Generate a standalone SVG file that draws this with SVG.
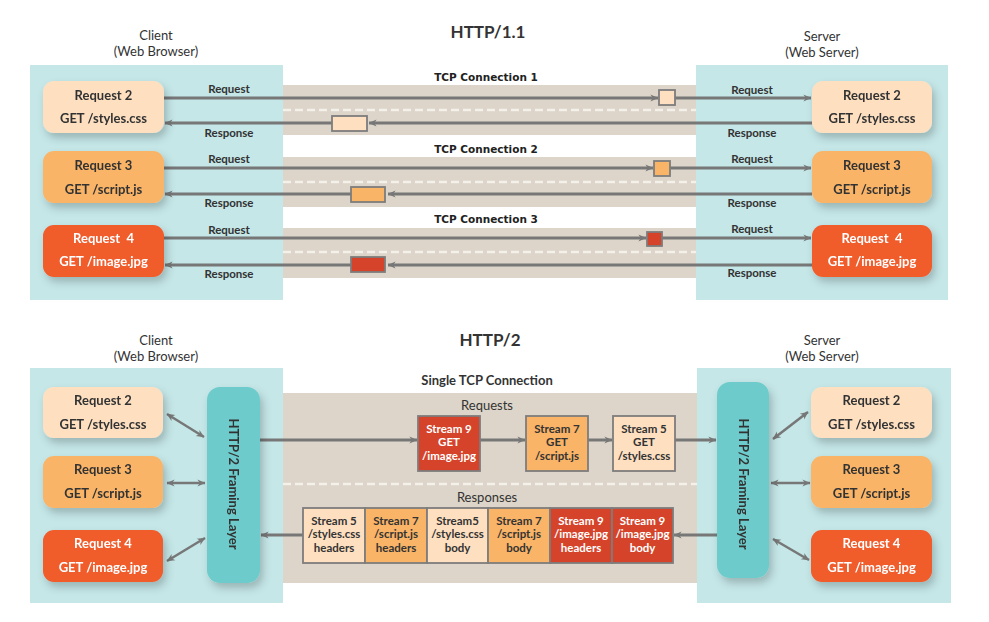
<svg xmlns="http://www.w3.org/2000/svg" width="989" height="622" viewBox="0 0 989 622">
<defs>
<style>
.t{font-family:Lato,"Open Sans","Liberation Sans",sans-serif;font-weight:bold;fill:#333;text-anchor:middle}
.w{fill:#fff}
.nd{font-size:13px}
.lb{font-size:11.5px}
.hd{font-family:Lato,"Liberation Sans",sans-serif;font-size:13px;fill:#333;text-anchor:middle}
.ttl{font-size:17px}
.tcp{font-family:"DejaVu Sans",Verdana,sans-serif;font-weight:bold;font-size:10.5px;fill:#222;text-anchor:middle}
.sm{font-size:11.5px}
.panel{fill:#c5e7e8}
.band{fill:#ddd5c9}
.dash{stroke:#f4f0ea;stroke-width:2.5;stroke-dasharray:8 4}
.peach{fill:#fee0c1}
.orange{fill:#f9b467}
.red{fill:#f05b2c}
.dred{fill:#d5442a}
.pkt{stroke:#7d7d7d;stroke-width:1.8}
.ln{stroke:#777;stroke-width:3;fill:none}
.ln2{stroke:#777;stroke-width:2.5;fill:none}
.fr{fill:#6ecbcb}
</style>
<filter id="sh" x="-20%" y="-20%" width="150%" height="160%">
<feDropShadow dx="3" dy="5" stdDeviation="4" flood-color="#000" flood-opacity="0.22"/>
</filter>
<marker id="ah" viewBox="0 0 10 10" refX="9.5" refY="5" markerWidth="10" markerHeight="8" markerUnits="userSpaceOnUse" orient="auto-start-reverse">
<path d="M0,0.5 L10,5 L0,9.5 L3,5 z" fill="#777"/>
</marker>
</defs>
<rect width="989" height="622" fill="#fff"/>

<!-- ===== HTTP/1.1 ===== -->
<text class="t ttl" x="488" y="38">HTTP/1.1</text>
<text class="hd" x="156" y="40">Client</text>
<text class="hd" x="156" y="56">(Web Browser)</text>
<text class="hd" x="822" y="41">Server</text>
<text class="hd" x="822" y="57">(Web Server)</text>

<rect class="panel" x="30" y="65" width="253" height="235"/>
<rect class="panel" x="696" y="65" width="252" height="235"/>

<g id="tcp1">
<rect class="band" x="283" y="85" width="413" height="50"/>
<line class="dash" x1="283" y1="110" x2="696" y2="110"/>
<text class="tcp" x="486" y="81">TCP Connection 1</text>
</g>
<g id="tcp2">
<rect class="band" x="283" y="157" width="413" height="50"/>
<line class="dash" x1="283" y1="182" x2="696" y2="182"/>
<text class="tcp" x="486" y="153">TCP Connection 2</text>
</g>
<g id="tcp3">
<rect class="band" x="283" y="228" width="413" height="50"/>
<line class="dash" x1="283" y1="252" x2="696" y2="252"/>
<text class="tcp" x="486" y="223">TCP Connection 3</text>
</g>

<g id="connectors-http1">
<line class="ln" x1="164" y1="98" x2="658" y2="98" marker-end="url(#ah)"/>
<line class="ln" x1="675" y1="98" x2="811" y2="98" marker-end="url(#ah)"/>
<line class="ln" x1="812" y1="123" x2="369" y2="123" marker-end="url(#ah)"/>
<line class="ln" x1="332" y1="123" x2="165" y2="123" marker-end="url(#ah)"/>

<line class="ln" x1="164" y1="168" x2="653" y2="168" marker-end="url(#ah)"/>
<line class="ln" x1="670" y1="168" x2="811" y2="168" marker-end="url(#ah)"/>
<line class="ln" x1="812" y1="194" x2="388" y2="194" marker-end="url(#ah)"/>
<line class="ln" x1="351" y1="194" x2="165" y2="194" marker-end="url(#ah)"/>

<line class="ln" x1="164" y1="238" x2="646" y2="238" marker-end="url(#ah)"/>
<line class="ln" x1="662" y1="238" x2="811" y2="238" marker-end="url(#ah)"/>
<line class="ln" x1="812" y1="265" x2="388" y2="265" marker-end="url(#ah)"/>
<line class="ln" x1="351" y1="265" x2="165" y2="265" marker-end="url(#ah)"/>

<text class="t lb" x="229" y="93">Request</text>
<text class="t lb" x="229" y="137">Response</text>
<text class="t lb" x="752" y="94">Request</text>
<text class="t lb" x="752" y="137">Response</text>
<text class="t lb" x="229" y="163">Request</text>
<text class="t lb" x="229" y="207">Response</text>
<text class="t lb" x="752" y="163">Request</text>
<text class="t lb" x="752" y="207">Response</text>
<text class="t lb" x="229" y="234">Request</text>
<text class="t lb" x="229" y="278">Response</text>
<text class="t lb" x="752" y="233">Request</text>
<text class="t lb" x="752" y="277">Response</text>
</g>

<g id="packets-http1">
<rect class="peach pkt" x="659" y="90" width="16" height="15"/>
<rect class="peach pkt" x="332" y="116" width="35" height="15"/>
<rect class="orange pkt" x="654" y="161" width="16" height="15"/>
<rect class="orange pkt" x="351" y="187" width="34" height="15"/>
<rect class="dred pkt" x="647" y="232" width="15" height="14"/>
<rect class="dred pkt" x="351" y="257" width="34" height="15"/>
</g>

<g id="c1-req2" filter="url(#sh)">
<rect class="peach" x="43" y="81" width="121" height="52" rx="11"/>
<text class="t nd" x="103.5" y="100">Request 2</text>
<text class="t nd" x="103.5" y="123">GET /styles.css</text>
</g>
<g id="c1-req3" filter="url(#sh)">
<rect class="orange" x="43" y="151" width="121" height="52" rx="11"/>
<text class="t nd" x="103.5" y="170">Request 3</text>
<text class="t nd" x="103.5" y="194">GET /script.js</text>
</g>
<g id="c1-req4" filter="url(#sh)">
<rect class="red" x="43" y="225" width="121" height="52" rx="11"/>
<text class="t nd w" x="103.5" y="243" xml:space="preserve">Request  4</text>
<text class="t nd w" x="103.5" y="266">GET /image.jpg</text>
</g>
<g id="s1-req2" filter="url(#sh)">
<rect class="peach" x="812" y="81" width="120" height="52" rx="11"/>
<text class="t nd" x="872" y="100">Request 2</text>
<text class="t nd" x="872" y="123">GET /styles.css</text>
</g>
<g id="s1-req3" filter="url(#sh)">
<rect class="orange" x="812" y="151" width="120" height="52" rx="11"/>
<text class="t nd" x="872" y="170">Request 3</text>
<text class="t nd" x="872" y="194">GET /script.js</text>
</g>
<g id="s1-req4" filter="url(#sh)">
<rect class="red" x="812" y="225" width="120" height="52" rx="11"/>
<text class="t nd w" x="872" y="243" xml:space="preserve">Request  4</text>
<text class="t nd w" x="872" y="266">GET /image.jpg</text>
</g>

<!-- ===== HTTP/2 ===== -->
<text class="t ttl" x="490" y="346">HTTP/2</text>
<text class="hd" x="156" y="345">Client</text>
<text class="hd" x="156" y="361">(Web Browser)</text>
<text class="hd" x="822" y="345">Server</text>
<text class="hd" x="822" y="361">(Web Server)</text>

<rect class="panel" x="30" y="368" width="253" height="235"/>
<rect class="panel" x="697" y="368" width="254" height="235"/>

<g id="tcp-single">
<rect class="band" x="283" y="393" width="414" height="190"/>
<line class="dash" x1="283" y1="484" x2="697" y2="484"/>
<text class="t nd" x="487" y="385">Single TCP Connection</text>
<text class="t nd" x="487" y="410" style="font-weight:normal">Requests</text>
<text class="t nd" x="487" y="502" style="font-weight:normal">Responses</text>
</g>

<g id="connectors-http2">
<line class="ln" x1="260" y1="440" x2="417" y2="440" marker-end="url(#ah)"/>
<line class="ln" x1="480" y1="440" x2="525" y2="440" marker-end="url(#ah)"/>
<line class="ln" x1="588" y1="440" x2="612" y2="440" marker-end="url(#ah)"/>
<line class="ln" x1="675" y1="440" x2="716" y2="440" marker-end="url(#ah)"/>
<line class="ln" x1="717" y1="535" x2="674" y2="535" marker-end="url(#ah)"/>
<line class="ln" x1="303" y1="535" x2="261" y2="535" marker-end="url(#ah)"/>

<line class="ln2" x1="167" y1="414" x2="204" y2="437" marker-start="url(#ah)" marker-end="url(#ah)"/>
<line class="ln2" x1="167" y1="483" x2="205" y2="483" marker-start="url(#ah)" marker-end="url(#ah)"/>
<line class="ln2" x1="167" y1="561" x2="205" y2="538" marker-start="url(#ah)" marker-end="url(#ah)"/>
<line class="ln2" x1="773" y1="439" x2="808" y2="412" marker-start="url(#ah)" marker-end="url(#ah)"/>
<line class="ln2" x1="771" y1="483" x2="810" y2="483" marker-start="url(#ah)" marker-end="url(#ah)"/>
<line class="ln2" x1="773" y1="539" x2="809" y2="560" marker-start="url(#ah)" marker-end="url(#ah)"/>
</g>

<g id="framing-client" filter="url(#sh)">
<rect class="fr" x="207" y="387" width="53" height="196" rx="13"/>
<text class="t nd" transform="translate(233.5,484) rotate(90)" x="0" y="4.5">HTTP/2 Framing Layer</text>
</g>
<g id="framing-server" filter="url(#sh)">
<rect class="fr" x="717" y="382" width="52" height="196" rx="13"/>
<text class="t nd" transform="translate(743,484) rotate(90)" x="0" y="4.5">HTTP/2 Framing Layer</text>
</g>

<g id="req-s9">
<rect class="dred pkt" x="418" y="416" width="62" height="55"/>
<text class="t sm w" x="449" y="433">Stream 9</text>
<text class="t sm w" x="449" y="446">GET</text>
<text class="t sm w" x="449" y="460">/image.jpg</text>
</g>
<g id="req-s7">
<rect class="orange pkt" x="526" y="416" width="62" height="55"/>
<text class="t sm" x="557" y="433">Stream 7</text>
<text class="t sm" x="557" y="446">GET</text>
<text class="t sm" x="557" y="460">/script.js</text>
</g>
<g id="req-s5">
<rect class="peach pkt" x="613" y="416" width="62" height="55"/>
<text class="t sm" x="644" y="433">Stream 5</text>
<text class="t sm" x="644" y="446">GET</text>
<text class="t sm" x="644" y="460">/styles.css</text>
</g>

<g id="resp-1">
<rect class="peach pkt" x="303" y="508" width="62" height="55"/>
<text class="t sm" x="334" y="525">Stream 5</text>
<text class="t sm" x="334" y="538">/styles.css</text>
<text class="t sm" x="334" y="552">headers</text>
</g>
<g id="resp-2">
<rect class="orange pkt" x="365" y="508" width="62" height="55"/>
<text class="t sm" x="396" y="525">Stream 7</text>
<text class="t sm" x="396" y="538">/script.js</text>
<text class="t sm" x="396" y="552">headers</text>
</g>
<g id="resp-3">
<rect class="peach pkt" x="427" y="508" width="61" height="55"/>
<text class="t sm" x="457.5" y="525">Stream5</text>
<text class="t sm" x="457.5" y="538">/styles.css</text>
<text class="t sm" x="457.5" y="552">body</text>
</g>
<g id="resp-4">
<rect class="orange pkt" x="488" y="508" width="62" height="55"/>
<text class="t sm" x="519" y="525">Stream 7</text>
<text class="t sm" x="519" y="538">/script.js</text>
<text class="t sm" x="519" y="552">body</text>
</g>
<g id="resp-5">
<rect class="dred pkt" x="550" y="508" width="62" height="55"/>
<text class="t sm w" x="581" y="525">Stream 9</text>
<text class="t sm w" x="581" y="538">/image.jpg</text>
<text class="t sm w" x="581" y="552">headers</text>
</g>
<g id="resp-6">
<rect class="dred pkt" x="612" y="508" width="61" height="55"/>
<text class="t sm w" x="642.5" y="525">Stream 9</text>
<text class="t sm w" x="642.5" y="538">/image.jpg</text>
<text class="t sm w" x="642.5" y="552">body</text>
</g>

<g id="c2-req2" filter="url(#sh)">
<rect class="peach" x="43" y="387" width="120" height="51" rx="11"/>
<text class="t nd" x="103" y="405">Request 2</text>
<text class="t nd" x="103" y="429">GET /styles.css</text>
</g>
<g id="c2-req3" filter="url(#sh)">
<rect class="orange" x="43" y="456" width="120" height="52" rx="11"/>
<text class="t nd" x="103" y="474">Request 3</text>
<text class="t nd" x="103" y="498">GET /script.js</text>
</g>
<g id="c2-req4" filter="url(#sh)">
<rect class="red" x="43" y="530" width="120" height="52" rx="11"/>
<text class="t nd w" x="103" y="548">Request 4</text>
<text class="t nd w" x="103" y="572">GET /image.jpg</text>
</g>
<g id="s2-req2" filter="url(#sh)">
<rect class="peach" x="811" y="387" width="121" height="51" rx="11"/>
<text class="t nd" x="871.5" y="405">Request 2</text>
<text class="t nd" x="871.5" y="429">GET /styles.css</text>
</g>
<g id="s2-req3" filter="url(#sh)">
<rect class="orange" x="811" y="456" width="121" height="52" rx="11"/>
<text class="t nd" x="871.5" y="474">Request 3</text>
<text class="t nd" x="871.5" y="498">GET /script.js</text>
</g>
<g id="s2-req4" filter="url(#sh)">
<rect class="red" x="811" y="530" width="121" height="52" rx="11"/>
<text class="t nd w" x="871.5" y="548">Request 4</text>
<text class="t nd w" x="871.5" y="572">GET /image.jpg</text>
</g>
</svg>
